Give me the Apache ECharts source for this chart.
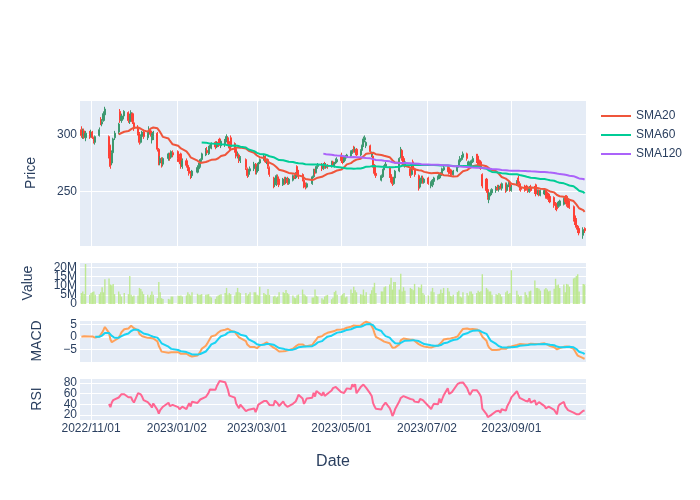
<!DOCTYPE html>
<html><head><meta charset="utf-8">
<script src="https://cdn.jsdelivr.net/npm/echarts@6/dist/echarts.min.js"></script>
<style>html,body{margin:0;padding:0;background:#fff}#c{width:700px;height:500px}</style>
</head><body><div id="c"></div>
<script>
// ---- calendar / ticks ----
const firstTrade = '2022/10/25', lastTrade = '2023/10/24';
const holidays = ['2022/11/24','2022/12/26','2023/01/02','2023/01/16','2023/02/20','2023/04/07','2023/05/29','2023/06/19','2023/07/04','2023/09/04'];
const tickLabels = ['2022/11/01','2023/01/02','2023/03/01','2023/05/01','2023/07/02','2023/09/01'];

// ---- daily OHLC (one row per week) ----
const open = [
304,298,303,297,
301,299,302,297,293,
299,313,309,312,317,
298,290,275,284,297,
302,320,312,316,
319,311,315,318,310,
306,301,293,298,302,
297,302,303,295,298,
301,287,275,278,274,
279,282,280,284,
285,281,283,272,
277,273,271,266,264,
267,270,272,278,
282,286,283,288,288,
293,289,293,296,290,
291,295,297,292,297,
292,287,281,282,277,
278,270,265,268,
270,274,267,269,275,
279,281,276,278,271,
262,256,257,263,261,
256,262,258,261,257,
260,263,262,272,268,
265,260,256,254,
257,263,268,267,272,
273,270,274,271,273,
272,276,272,275,276,
282,281,276,278,280,
281,284,289,285,287,
282,286,290,295,290,
290,282,281,273,266,
260,263,269,272,
271,265,262,257,262,
268,280,286,279,273,
270,265,276,270,
264,254,259,262,258,
262,255,256,259,
261,262,264,265,269,
271,271,269,268,265,
268,272,276,278,280,
283,272,272,273,276,
281,281,277,276,265,
261,252,243,248,249,
251,253,252,254,253,
257,251,256,257,251,
256,262,257,254,
255,255,253,250,254,
254,256,248,251,247,
248,251,249,248,246,
245,240,237,237,238,
239,245,246,243,241,
237,229,226,220,218,
212,218];
const close = [
299,303,298,301,
298,302,297,294,298,
304,309,311,318,322,
281,272,284,296,301,
309,312,316,320,
312,316,319,311,305,
301,293,298,302,298,
301,304,300,299,302,
287,275,279,274,279,
283,279,285,282,
279,276,272,277,
273,270,266,263,268,
271,273,278,283,
286,284,288,290,292,
289,293,291,292,294,
295,298,292,288,289,
286,281,283,277,280,
271,264,269,270,
274,267,270,275,278,
281,276,278,272,265,
255,260,264,258,256,
261,257,262,258,261,
264,262,266,266,263,
261,255,254,257,
263,268,266,272,273,
270,274,271,273,272,
276,273,275,277,278,
277,276,279,281,282,
285,286,285,287,282,
286,290,296,297,293,
285,284,273,266,264,
264,269,272,274,
264,260,257,262,268,
279,287,279,274,276,
264,273,270,265,
253,260,262,258,261,
257,258,260,262,
263,265,266,270,271,
268,266,266,265,268,
272,277,279,281,283,
279,276,275,277,279,
277,276,272,271,255,
251,245,249,251,252,
254,252,255,253,257,
251,256,258,251,254,
259,257,253,252,
251,252,251,254,251,
249,248,251,247,251,
251,245,244,243,241,
238,236,235,241,242,
244,241,239,238,236,
226,223,219,216,214,
217,216];
const high = [
307,305,305,303,
303,304,303,298,299,
306,315,313,320,324,
299,291,286,297,303,
310,322,318,321,
320,318,321,319,311,
308,302,300,303,304,
302,307,305,301,303,
302,288,281,280,280,
284,284,286,286,
286,283,284,279,
279,275,272,268,269,
273,275,279,284,
288,289,290,291,293,
294,294,296,297,295,
296,300,298,294,299,
293,288,285,283,281,
279,271,270,272,
276,275,272,276,279,
283,282,279,279,272,
263,262,265,265,262,
262,263,263,263,262,
265,265,267,273,269,
266,261,258,258,
264,270,270,273,275,
275,275,276,275,274,
277,277,276,279,280,
284,282,280,282,283,
286,287,290,289,288,
287,291,298,299,294,
291,285,282,274,268,
265,270,273,276,
272,266,263,263,269,
280,289,287,281,277,
271,274,278,271,
265,261,264,264,262,
263,259,261,263,
264,266,267,271,273,
272,272,270,269,269,
273,278,281,282,285,
284,277,276,278,281,
283,283,278,277,266,
262,253,250,252,253,
255,256,256,257,258,
258,258,259,258,256,
260,264,259,256,
256,256,254,255,256,
255,257,252,252,252,
252,252,250,249,247,
246,241,239,242,243,
245,247,247,244,242,
238,230,227,221,219,
219,219];
const low = [
297,296,296,294,
296,297,296,292,291,
298,308,307,311,315,
279,270,273,283,295,
300,310,310,313,
310,309,312,309,303,
299,291,292,296,296,
295,299,298,292,295,
285,273,273,271,272,
277,277,279,280,
276,274,270,270,
271,268,264,261,262,
266,268,271,276,
281,283,282,286,287,
287,288,289,290,288,
289,293,290,286,287,
284,279,279,275,275,
269,262,263,266,
268,265,265,268,274,
277,275,274,270,263,
253,254,255,256,254,
255,256,257,256,256,
259,261,261,264,261,
259,253,252,253,
256,262,264,266,270,
268,269,270,270,270,
271,272,271,274,275,
275,274,275,277,279,
280,283,284,284,281,
281,285,289,293,288,
284,280,271,264,262,
259,262,268,271,
262,258,255,256,261,
267,279,277,272,271,
262,264,268,263,
251,253,257,257,257,
256,253,254,258,
260,261,263,264,268,
267,265,264,264,264,
267,271,275,277,279,
277,271,271,272,275,
275,274,270,269,253,
249,243,240,246,247,
249,251,250,252,251,
249,250,254,250,250,
255,256,251,250,
250,251,249,249,250,
248,246,247,246,246,
247,244,243,241,240,
236,234,233,236,237,
238,239,237,236,235,
224,221,217,214,212,
209,214];
// volume in millions
const volumeM = [
6.0,6.9,5.5,21.9,
5.0,6.0,6.5,6.9,5.0,
5.4,6.5,9.2,6.4,13.5,
14.0,10.7,10.3,11.0,5.4,
6.9,5.4,4.1,6.0,
5.4,15.3,5.0,4.1,4.7,
4.7,8.8,8.2,6.9,5.4,
5.0,3.6,5.0,6.9,5.0,
3.2,12.1,6.5,3.2,2.8,
2.8,2.4,4.1,4.1,
4.5,4.5,4.7,4.1,
4.7,6.4,5.4,4.7,6.5,
5.6,4.9,5.0,5.4,
5.0,5.2,5.4,4.1,3.6,
2.8,4.1,4.7,5.0,5.4,
6.0,8.8,5.0,6.0,5.4,
4.7,6.4,8.8,6.5,6.0,
6.0,4.7,5.4,6.5,
6.5,6.4,5.0,4.7,9.5,
6.0,5.4,5.0,8.2,5.0,
4.1,4.5,3.6,4.1,6.5,
6.4,6.0,7.7,6.0,5.4,
4.7,3.6,3.2,4.8,5.2,
7.9,5.4,4.7,4.1,
3.6,3.6,7.9,4.5,4.1,
3.2,2.4,4.1,4.7,5.0,
2.6,3.6,6.5,7.3,5.0,
4.7,5.4,6.0,3.6,4.1,
7.9,6.0,9.5,7.5,6.4,
5.4,5.0,7.9,4.7,6.4,
5.6,7.5,9.2,11.6,6.0,
6.9,6.9,9.2,9.7,
10.7,14.4,7.9,12.1,12.1,
7.9,16.6,6.9,9.2,7.3,
8.8,8.2,7.5,11.0,
9.2,8.8,10.7,6.0,5.0,
4.7,6.9,8.8,6.4,
5.4,5.6,7.9,6.0,8.8,
8.8,6.9,4.5,4.1,5.0,
6.5,7.3,4.1,3.6,6.5,
6.0,4.7,6.9,6.9,5.6,
6.0,7.3,6.5,7.0,16.3,
8.8,7.9,6.9,6.9,5.0,
5.4,5.0,6.0,5.4,4.1,
6.4,7.3,5.5,6.0,18.5,
7.3,5.0,4.1,4.5,
6.4,5.0,3.6,6.9,7.3,
12.9,8.8,8.8,8.4,7.3,
8.0,8.8,7.9,6.9,7.3,
8.4,13.8,10.3,10.7,8.8,
10.7,6.5,11.0,10.7,9.5,
14.0,14.4,15.3,16.3,6.9,
11.0,10.7];

// ---- build calendar categories ----
function fmt(d){const m=d.getUTCMonth()+1, dd=d.getUTCDate();return d.getUTCFullYear()+'/'+(m<10?'0':'')+m+'/'+(dd<10?'0':'')+dd;}
const cats=[], tradeIdx=[];
for(let t=Date.UTC(2022,9,24); t<=Date.UTC(2023,9,25); t+=864e5){
  const d=new Date(t), s=fmt(d), wd=d.getUTCDay();
  cats.push(s);
  if(wd>0 && wd<6 && s>=firstTrade && s<=lastTrade && holidays.indexOf(s)<0) tradeIdx.push(cats.length-1);
}
const tickSet=new Set(tickLabels);
const N=Math.min(tradeIdx.length, close.length);

// ---- indicators derived from the close prices ----
function sma(n){const r=[];for(let i=n-1;i<N;i++){let s=0;for(let k=i-n+1;k<=i;k++)s+=close[k];r.push([tradeIdx[i],s/n]);}return r;}
function ema(arr,span){const a=2/(span+1),r=[arr[0]];for(let i=1;i<arr.length;i++)r.push(a*arr[i]+(1-a)*r[i-1]);return r;}
const e12=ema(close.slice(0,N),12), e26=ema(close.slice(0,N),26);
const macd=e12.map((v,i)=>v-e26[i]);
const sig=ema(macd,9);
const macdData=macd.map((v,i)=>[tradeIdx[i],v]);
const sigData=[];for(let i=8;i<N;i++)sigData.push([tradeIdx[i],sig[i]]);
const rsiData=[];
for(let i=14;i<N;i++){let g=0,l=0;for(let k=i-13;k<=i;k++){const d=close[k]-close[k-1];if(d>0)g+=d;else l-=d;}
  rsiData.push([tradeIdx[i], l===0?100:100-100/(1+g/l)]);}
const candleData=[];for(let i=0;i<N;i++)candleData.push([tradeIdx[i],open[i],close[i],low[i],high[i]]);
const volData=[];for(let i=0;i<N;i++)volData.push([tradeIdx[i],volumeM[i]*1e6]);

const FONT='"Liberation Sans", Arial, sans-serif';
const TXT='#2a3f5f';
const L=80, W=506;
const grids=[{top:100,height:146},{top:262,height:42},{top:320,height:42},{top:378,height:42}]
  .map(g=>({left:L,width:W,top:g.top,height:g.height,show:true,backgroundColor:'#E5ECF6',borderWidth:0}));
function xAx(i,showLabel,zeroLine){
  return {type:'category',gridIndex:i,data:cats,boundaryGap:false,
    axisTick:{show:false},
    axisLine:{show:!!zeroLine,onZero:true,lineStyle:{color:'#fff',width:2}},
    axisLabel:{show:showLabel,interval:(idx,val)=>tickSet.has(val),color:TXT,fontSize:12,fontFamily:FONT,margin:3},
    splitLine:{show:true,interval:(idx,val)=>tickSet.has(val),lineStyle:{color:'#fff',width:1}},
    name:showLabel?'Date':'',nameLocation:'middle',nameGap:34,
    nameTextStyle:{color:TXT,fontSize:16,fontFamily:FONT}};
}
function yAx(i,o){
  return Object.assign({type:'value',gridIndex:i,scale:false,position:'left',offset:0,
    axisLine:{show:false},axisTick:{show:false},
    splitLine:{show:true,lineStyle:{color:'#fff',width:1}},
    nameLocation:'middle',nameRotate:90,
    nameTextStyle:{color:TXT,fontSize:14,fontFamily:FONT}},o);
}
const lab=(f,minL)=>({color:TXT,fontSize:12,fontFamily:FONT,margin:3,showMinLabel:minL,showMaxLabel:true,formatter:f});
const option={
  animation:false,
  backgroundColor:'#fff',
  grid:grids,
  xAxis:[xAx(0,false,false),xAx(1,false,true),xAx(2,false,true),xAx(3,true,false)],
  yAxis:[
    yAx(0,{min:202.7,max:329.9,minInterval:50,maxInterval:50,name:'Price',nameGap:42,
      axisLabel:lab(v=>Math.abs(v%50)<1e-6?String(Math.round(v)):'',true)}),
    yAx(1,{min:0,max:23e6,interval:5e6,name:'Value',nameGap:45,
      axisLabel:lab(v=>(v>0&&Math.abs(v%5e6)<1)?(v/1e6)+'M':'',false)}),
    yAx(2,{min:-10.1,max:6.7,minInterval:5,maxInterval:5,name:'MACD',nameGap:36,
      axisLabel:lab(v=>(Math.abs(v%5)<1e-6&&v>-9)?(v<0?'\u2212'+Math.round(-v):String(Math.round(v))):'',true)}),
    yAx(3,{min:10.5,max:89.5,minInterval:20,maxInterval:20,name:'RSI',nameGap:36,
      axisLabel:lab(v=>Math.abs(v%20)<1e-6?String(Math.round(v)):'',true)}),
    // second axis on the volume grid, only to print its "0" tick label
    yAx(1,{min:0,max:23e6,interval:5e6,splitLine:{show:false},
      axisLabel:lab(v=>v===0?'0':'',true)})
  ],
  legend:{data:['SMA20','SMA60','SMA120'],orient:'vertical',left:601,top:110,padding:0,
    itemWidth:30,itemHeight:2,itemGap:7,icon:'rect',
    textStyle:{color:TXT,fontSize:12,fontFamily:FONT}},
  series:[
    {type:'candlestick',xAxisIndex:0,yAxisIndex:0,data:candleData,encode:{x:0,y:[1,2,3,4]},
      barWidth:1.6,itemStyle:{color:'#3D9970',color0:'#FF4136',borderColor:'#3D9970',borderColor0:'#FF4136',borderWidth:1}},
    {name:'SMA20',type:'line',xAxisIndex:0,yAxisIndex:0,data:sma(20),showSymbol:false,color:'#EF553B',lineStyle:{width:2}},
    {name:'SMA60',type:'line',xAxisIndex:0,yAxisIndex:0,data:sma(60),showSymbol:false,color:'#00CC96',lineStyle:{width:2}},
    {name:'SMA120',type:'line',xAxisIndex:0,yAxisIndex:0,data:sma(120),showSymbol:false,color:'#AB63FA',lineStyle:{width:2}},
    {type:'bar',xAxisIndex:1,yAxisIndex:1,data:volData,barWidth:1.4,itemStyle:{color:'#B6E880',opacity:0.85}},
    {type:'line',xAxisIndex:2,yAxisIndex:2,data:macdData,showSymbol:false,color:'#FFA15A',lineStyle:{width:2}},
    {type:'line',xAxisIndex:2,yAxisIndex:2,data:sigData,showSymbol:false,color:'#19D3F3',lineStyle:{width:2}},
    {type:'line',xAxisIndex:3,yAxisIndex:3,data:rsiData,showSymbol:false,color:'#FF6692',lineStyle:{width:2}}
  ]
};
if(tradeIdx.length!==close.length||open.length!==close.length||high.length!==close.length||low.length!==close.length||volumeM.length!==close.length){
  option.title={text:'len '+tradeIdx.length+' o'+open.length+' c'+close.length+' h'+high.length+' l'+low.length+' v'+volumeM.length,textStyle:{fontSize:12}};
}
const chart=echarts.init(document.getElementById('c'),null,{renderer:'canvas'});
chart.setOption(option);
</script>
</body></html>
